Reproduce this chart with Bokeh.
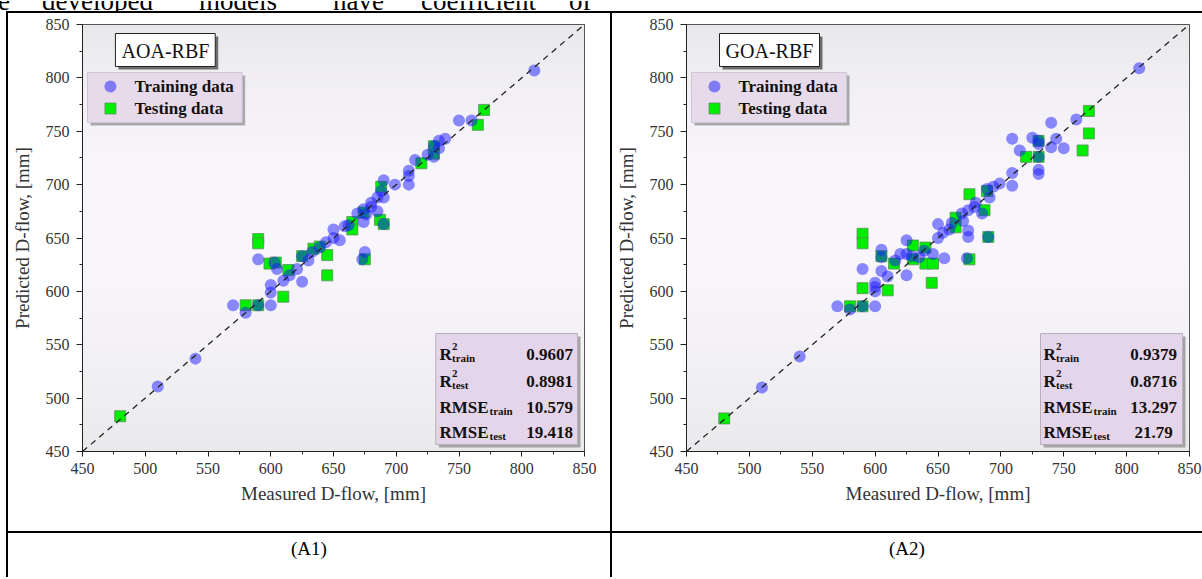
import numpy as np
from bokeh.plotting import figure
from bokeh.models import Div, Label, BoxAnnotation, Range1d, FixedTicker, Slope
from bokeh.layouts import row, column
from bokeh.embed import file_html
from bokeh.resources import INLINE

# ---------------- data ----------------
AXIS_MIN = 450
AXIS_MAX = 850
TICKS = [450, 500, 550, 600, 650, 700, 750, 800, 850]
MINOR_TICKS = [475, 525, 575, 625, 675, 725, 775, 825]
X_TITLE = "Measured D-flow, [mm]"
Y_TITLE = "Predicted D-flow, [mm]"
LEGEND_LABELS = ["Training data", "Testing data"]
MODEL_NAMES = ["AOA-RBF", "GOA-RBF"]
CAPTIONS = ["(A1)", "(A2)"]
TOP_WORDS = ["e", "developed", "models", "have", "coefficient", "of"]

aoa_train_measured = [810, 750, 760, 739, 734, 734, 730, 730, 725, 715, 710, 710, 710, 699,
                      690, 690, 685, 680, 680, 674, 669, 685, 674, 659, 650, 655, 650, 644,
                      639, 633, 625, 630, 621, 615, 610, 605, 603, 590, 625, 600, 600, 600,
                      590, 580, 570, 540, 510, 675, 673, 690, 662, 676, 688]
aoa_train_predicted = [807, 760, 760, 743, 741, 734, 736, 726, 728, 723, 713, 708, 700, 700,
                       704, 688, 688, 683, 679, 677, 673, 675, 665, 661, 658, 648, 650, 646,
                       641, 637, 633, 629, 621, 615, 610, 621, 627, 630, 609, 606, 599, 587,
                       587, 580, 587, 537, 511, 637, 630, 663, 662, 672, 694]
aoa_test_measured = [480, 590, 590, 599, 604, 610, 614, 580, 590, 645, 625, 634, 639, 645,
                     665, 665, 674, 675, 687, 690, 688, 720, 730, 730, 765, 770]
aoa_test_predicted = [483, 649, 645, 626, 627, 595, 620, 587, 587, 615, 633, 640, 642, 634,
                      665, 658, 674, 630, 667, 663, 698, 720, 736, 729, 756, 770]
aoa_stats = ["0.9607", "0.8981", "10.579", "19.418"]

goa_train_measured = [810, 760, 740, 709, 725, 715, 730, 740, 744, 750, 730, 730, 709, 709,
                      699, 694, 689, 691, 680, 679, 674, 669, 685, 670, 661, 650, 654, 650,
                      659, 674, 674, 673, 655, 646, 639, 635, 629, 625, 625, 620, 616, 605,
                      605, 605, 610, 625, 590, 600, 600, 600, 600, 590, 580, 570, 540, 510,
                      690, 730, 730]
goa_train_predicted = [809, 761, 758, 743, 744, 732, 738, 735, 743, 734, 714, 710, 711, 699,
                       701, 698, 696, 688, 683, 679, 676, 673, 673, 666, 664, 663, 655, 650,
                       658, 657, 651, 631, 631, 635, 638, 632, 633, 648, 635, 635, 629, 639,
                       632, 619, 614, 615, 621, 608, 604, 600, 586, 586, 583, 586, 539, 510,
                       651, 726, 741]
goa_test_measured = [480, 590, 590, 590, 580, 590, 610, 605, 615, 630, 630, 640, 640, 646,
                     645, 664, 664, 675, 675, 687, 689, 690, 720, 730, 730, 765, 770, 770]
goa_test_predicted = [481, 654, 645, 603, 586, 586, 601, 633, 626, 643, 630, 641, 626, 626,
                      608, 669, 660, 691, 630, 676, 694, 651, 726, 741, 726, 732, 748, 769]
goa_stats = ["0.9379", "0.8716", "13.297", "21.79"]

STAT_ROWS = [("R", "2", "train"), ("R", "2", "test"), ("RMSE", None, "train"), ("RMSE", None, "test")]

# ---------------- layout constants ----------------
FW, FH = 503, 427          # plot frame size in px
CELL_H = 518
CAP_H = 44
SERIF = "Liberation Serif"


def px_x(px):
    return AXIS_MIN + px * (AXIS_MAX - AXIS_MIN) / FW


def px_y(py):
    return AXIS_MAX - py * (AXIS_MAX - AXIS_MIN) / FH


def add_box(p, l, t, r, b, fill, line, shadow, shadow_off=3):
    if shadow is not None:
        p.add_layout(BoxAnnotation(left=px_x(l + shadow_off), right=px_x(r + shadow_off),
                                   top=px_y(t + shadow_off), bottom=px_y(b + shadow_off),
                                   fill_color=shadow, fill_alpha=1.0, line_alpha=0.0))
    p.add_layout(BoxAnnotation(left=px_x(l), right=px_x(r), top=px_y(t), bottom=px_y(b),
                               fill_color=fill, fill_alpha=1.0, line_color=line,
                               line_alpha=1.0, line_width=1))


def add_text(p, x, y, text, size, bold=False, align="left", baseline="alphabetic", color="#111111"):
    p.add_layout(Label(x=AXIS_MIN, y=AXIS_MAX, x_offset=x, y_offset=-y, text=text,
                       text_font=SERIF, text_font_size=f"{size}px",
                       text_font_style="bold" if bold else "normal",
                       text_align=align, text_baseline=baseline, text_color=color,
                       level="overlay"))


def gradient_image():
    n = 256
    t = np.linspace(0.0, 1.0, n)  # bottom -> top
    gray_bot = np.array([234, 234, 236], dtype=float)
    gray_top = np.array([225, 225, 227], dtype=float)
    light = np.array([250, 247, 252], dtype=float)
    base = gray_bot[None, :] * (1 - t)[:, None] + gray_top[None, :] * t[:, None]
    w = 1 - np.clip(np.abs(t - 0.55) / 0.55, 0, 1) ** 1.8
    col = base * (1 - w)[:, None] + light[None, :] * w[:, None]
    img = np.empty((n, 1), dtype=np.uint32)
    view = img.view(dtype=np.uint8).reshape((n, 1, 4))
    view[:, 0, 0] = col[:, 0]
    view[:, 0, 1] = col[:, 1]
    view[:, 0, 2] = col[:, 2]
    view[:, 0, 3] = 255
    return img


def make_panel(name, trx, try_, tex, tey, stats, width, left, right):
    p = figure(width=width, height=CELL_H,
               x_range=Range1d(AXIS_MIN, AXIS_MAX), y_range=Range1d(AXIS_MIN, AXIS_MAX),
               output_backend="svg", toolbar_location=None,
               min_border_left=left, min_border_right=right,
               min_border_top=11, min_border_bottom=CELL_H - 11 - FH,
               background_fill_color="white", border_fill_color="white",
               outline_line_color="#222222", outline_line_width=1)
    p.grid.visible = False

    p.image_rgba(image=[gradient_image()], x=AXIS_MIN, y=AXIS_MIN,
                 dw=AXIS_MAX - AXIS_MIN, dh=AXIS_MAX - AXIS_MIN, level="image")

    # testing squares first, training circles on top
    p.scatter(x=tex, y=tey, marker="square", size=11, fill_color="#00ee00",
              line_color="#5f8f5f", line_width=0.8)
    p.scatter(x=trx, y=try_, marker="circle", size=12, fill_color="#1a1aff",
              fill_alpha=0.5, line_alpha=0.0)

    p.add_layout(Slope(gradient=1, y_intercept=0, line_color="#222222",
                       line_dash="6 5", line_width=1.3))

    for ax in (p.xaxis[0], p.yaxis[0]):
        ax.ticker = FixedTicker(ticks=TICKS, minor_ticks=MINOR_TICKS)
        ax.axis_line_color = "#222222"
        ax.major_tick_line_color = "#222222"
        ax.minor_tick_line_color = "#222222"
        ax.major_tick_in = 0
        ax.minor_tick_in = 0
        ax.minor_tick_out = 3
        ax.major_label_text_font = SERIF
        ax.major_label_text_font_size = "16px"
        ax.major_label_text_color = "#333333"
        ax.axis_label_text_font = SERIF
        ax.axis_label_text_font_size = "19px"
        ax.axis_label_text_font_style = "normal"
        ax.axis_label_text_color = "#333333"
    p.xaxis.axis_label = X_TITLE
    p.yaxis.axis_label = Y_TITLE
    p.xaxis.major_tick_out = 5
    p.xaxis.major_label_standoff = 6
    p.xaxis.axis_label_standoff = 6
    p.yaxis.major_tick_out = 6
    p.yaxis.major_label_standoff = 7
    p.yaxis.axis_label_standoff = 10

    # model name box
    add_box(p, 33, 9, 133, 42, "white", "#222222", "#6e6e6e")
    add_text(p, 83, 26, name, 20, bold=False, align="center", baseline="middle", color="#111111")

    # legend box
    add_box(p, 5, 48, 160, 98, "#e7dbeb", "#cfc6d3", "#a9a9a9")
    p.scatter(x=[px_x(28)], y=[px_y(62)], marker="circle", size=12, fill_color="#1a1aff",
              fill_alpha=0.5, line_alpha=0.0, level="overlay")
    p.scatter(x=[px_x(28)], y=[px_y(84)], marker="square", size=11, fill_color="#00ee00",
              line_color="#5f8f5f", line_width=0.8, level="overlay")
    add_text(p, 52, 62, LEGEND_LABELS[0], 17, bold=True, baseline="middle")
    add_text(p, 52, 84, LEGEND_LABELS[1], 17, bold=True, baseline="middle")

    # statistics box
    add_box(p, 354, 309, 496, 420, "#e5d5ea", "#b9b0bd", "#a4a4a4")
    baselines = [330, 357, 383, 408]
    for (main, sup, sub), val, yb in zip(STAT_ROWS, stats, baselines):
        add_text(p, 357, yb, main, 17, bold=True)
        main_w = 12.5 if main == "R" else 50
        if sup:
            add_text(p, 357 + main_w, yb - 8, sup, 11, bold=True)
        add_text(p, 357 + main_w, yb + 3, sub, 11, bold=True)
        add_text(p, 467, yb, val, 17, bold=True, align="center")
    return p


def bar(w, h, color="#000000"):
    return Div(text="", width=w, height=h, margin=0, styles={"background-color": color})


def caption(text, w):
    html = ('<div style="width:%dpx;text-align:center;font-family:\'Liberation Serif\',serif;'
            'font-size:19px;line-height:22px;padding-top:5px;color:#000">%s</div>' % (w, text))
    return Div(text=html, width=w, height=CAP_H, margin=0)


def top_text():
    lefts = [-2, 42, 199, 333, 421, 569]
    spans = "".join('<span style="position:absolute;left:%dpx;top:-13px">%s</span>' % (l, w)
                    for l, w in zip(lefts, TOP_WORDS))
    html = ('<div style="position:relative;width:1202px;height:11px;overflow:hidden;'
            'font-family:\'Liberation Serif\',serif;font-size:27px;line-height:27px;'
            'white-space:nowrap;color:#000">%s</div>' % spans)
    return Div(text=html, width=1202, height=11, margin=0, styles={"overflow": "hidden"})


# cell 1: x 8..610, cell 2: x 612..1202 ; frames at 81..584 and 686..1189
p1 = make_panel(MODEL_NAMES[0], aoa_train_measured, aoa_train_predicted,
                aoa_test_measured, aoa_test_predicted, aoa_stats, 602, 73, 26)
p2 = make_panel(MODEL_NAMES[1], goa_train_measured, goa_train_predicted,
                goa_test_measured, goa_test_predicted, goa_stats, 590, 74, 13)

layout = column(
    top_text(),
    row(bar(6, 2, "#ffffff"), bar(1196, 2), spacing=0),
    row(bar(6, CELL_H, "#ffffff"), bar(2, CELL_H), p1, bar(2, CELL_H), p2, spacing=0),
    row(bar(6, 2, "#ffffff"), bar(1196, 2), spacing=0),
    row(bar(6, CAP_H, "#ffffff"), bar(2, CAP_H), caption(CAPTIONS[0], 602), bar(2, CAP_H),
        caption(CAPTIONS[1], 590), spacing=0),
    spacing=0,
)

open("out.html", "w").write(file_html(layout, INLINE))
